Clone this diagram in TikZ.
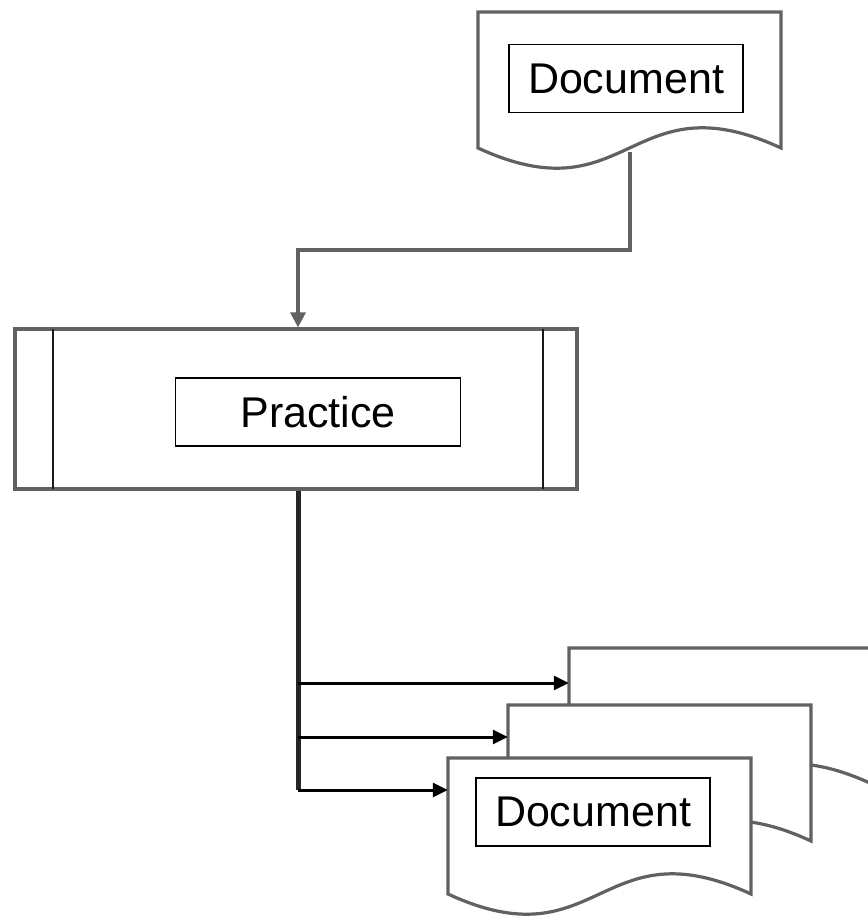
\documentclass[tikz,border=0pt]{standalone}
\usepackage{fontspec}
\setmainfont{Liberation Sans}
\usetikzlibrary{arrows.meta}
\tikzset{
  shapeline/.style={draw=black!62, line width=3.2, fill=white, line join=miter},
  txtbox/.style={draw=black, line width=1.6, fill=white, minimum width=234, minimum height=68, inner sep=0,
                 font=\fontsize{43}{50}\selectfont},
  bodynode/.style={inner sep=0, minimum width=303, minimum height=136},
  conn/.style={draw=black!62, line width=3.2, -{Triangle[length=15,width=15]}},
  trunk/.style={draw=black!85, line width=5},
  branch/.style={draw=black, line width=3, -{Triangle[length=15,width=14]}},
  sidebar/.style={draw=black!90, line width=2.6},
}
\newcommand\docoutline[2]{%
  \path[shapeline] (#1,#2) -- (#1+303,#2) -- (#1+303,#2+136)
    .. controls (#1+151.5,#2+136-70) and (#1+151.5,#2+136+70) .. (#1,#2+136) -- cycle;
}
\begin{document}
\begin{tikzpicture}[x=1pt,y=-1pt]
\useasboundingbox (0,0) rectangle (867,917);

% top document
\docoutline{478}{12}
\node[bodynode] (doctop) at (629.5,80) {};
\node[txtbox] (doctoptxt) at (626,78.5) {Document};

% practice (predefined process)
\node[draw=black!62, line width=3.2, fill=white, minimum width=562, minimum height=160, inner sep=0] (prac) at (296,409) {};
\draw[sidebar] (53,329) -- (53,489);
\draw[sidebar] (543,329) -- (543,489);
\node[txtbox, minimum width=285] (practxt) at (318,412) {Practice};

% connector top document -> practice
\coordinate (d1out) at (630,152);
\coordinate (bend1) at (298,250);
\draw[conn] (d1out) |- (bend1) -- (bend1 |- prac.north);

% stacked documents
\docoutline{569}{648}
\node[bodynode] (docback) at (720.5,716) {};
\docoutline{508}{705}
\node[bodynode] (docmid) at (659.5,773) {};
\docoutline{448}{758}
\node[bodynode] (docfront) at (599.5,826) {};
\node[txtbox] (docfronttxt) at (593,812) {Document};

% trunk and branches
\coordinate (j1) at (298,683);
\coordinate (j2) at (298,737);
\coordinate (j3) at (298,790);
\draw[trunk] (bend1 |- prac.south) -- (j3);
\draw[branch] (j1) -- (j1 -| docback.west);
\draw[branch] (j2) -- (j2 -| docmid.west);
\draw[branch] (j3) -- (j3 -| docfront.west);
\end{tikzpicture}
\end{document}
